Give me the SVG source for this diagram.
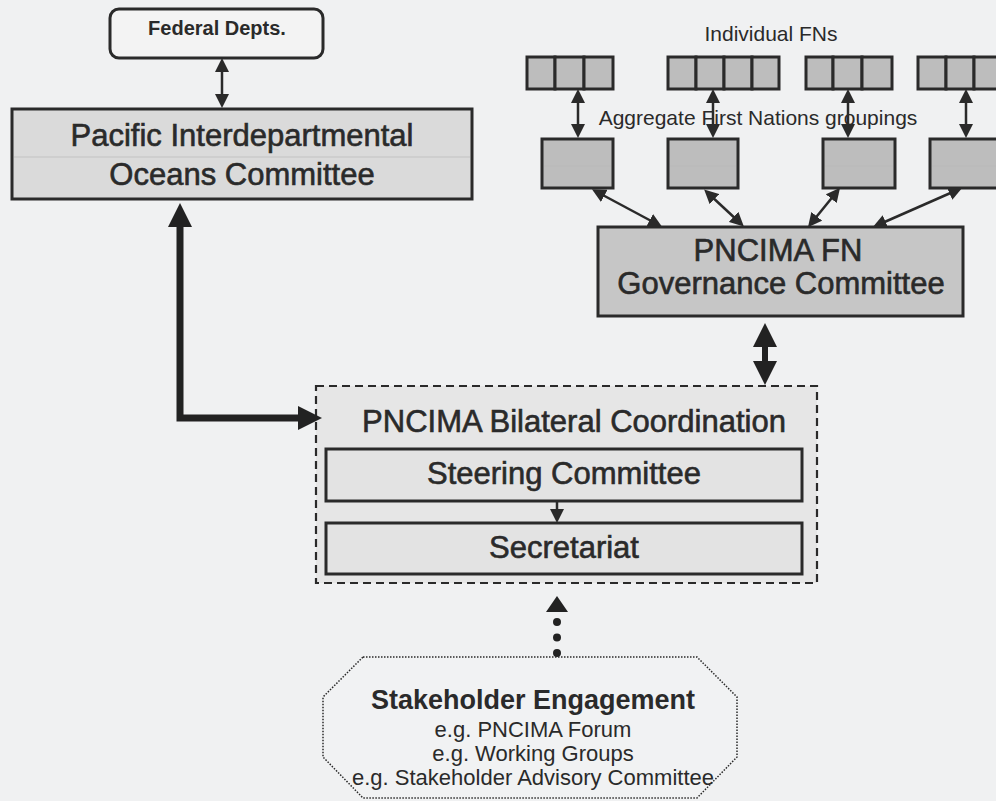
<svg xmlns="http://www.w3.org/2000/svg" width="996" height="801" viewBox="0 0 996 801">
<style>
text{font-family:"Liberation Sans",Arial,sans-serif;fill:#2a2a2a;text-anchor:middle}
.big{font-size:31px;stroke:#2a2a2a;stroke-width:0.6}
.mid{font-size:21px}
.b{font-weight:bold}
.box{stroke:#2a2a2a;stroke-width:3}
.cell{fill:#bdbdbd;stroke:#2a2a2a;stroke-width:3}
.thin{stroke:#2a2a2a;stroke-width:2.5;fill:none}
.thick{stroke:#222;stroke-width:7;fill:none}
.faint{stroke:#b9b9b9;stroke-width:1;opacity:.7}
.eg{font-size:22px}
</style>
<defs>
<marker id="ah" viewBox="0 0 14 14" refX="6" refY="7" markerWidth="14" markerHeight="14" markerUnits="userSpaceOnUse" orient="auto-start-reverse"><path d="M0,0 L14,7 L0,14 z" fill="#2a2a2a"/></marker>
<marker id="ahT" viewBox="0 0 24 24" refX="8" refY="12" markerWidth="24" markerHeight="24" markerUnits="userSpaceOnUse" orient="auto-start-reverse"><path d="M0,0 L24,12 L0,24 z" fill="#222"/></marker>
<marker id="ahS" viewBox="0 0 16 22" refX="0" refY="11" markerWidth="16" markerHeight="22" markerUnits="userSpaceOnUse" orient="auto"><path d="M0,0 L16,11 L0,22 z" fill="#222"/></marker>
</defs>
<rect width="996" height="801" fill="#f0f1f2"/>

<g id="federal">
<rect x="110" y="9" width="213" height="49" rx="9" fill="#f3f3f3" class="box" stroke-width="2.5"/>
<text x="217" y="35" class="b" font-size="20">Federal Depts.</text>
</g>

<g id="pacific">
<rect x="12" y="109" width="460" height="90" fill="#dadada" class="box"/>
<line x1="14" y1="157" x2="470" y2="157" class="faint"/>
<text x="242" y="146" class="big">Pacific Interdepartmental</text>
<text x="242" y="185" class="big">Oceans Committee</text>
</g>

<g id="individual-fns">
<text x="771" y="41" class="mid">Individual FNs</text>
<rect x="527" y="57" width="28" height="32" class="cell"/><rect x="555" y="57" width="29" height="32" class="cell"/><rect x="584" y="57" width="29" height="32" class="cell"/>
<rect x="668" y="57" width="28" height="32" class="cell"/><rect x="696" y="57" width="28" height="32" class="cell"/><rect x="724" y="57" width="28" height="32" class="cell"/><rect x="752" y="57" width="27" height="32" class="cell"/>
<rect x="806" y="57" width="27" height="32" class="cell"/><rect x="833" y="57" width="29" height="32" class="cell"/><rect x="862" y="57" width="30" height="32" class="cell"/>
<rect x="918" y="57" width="28" height="32" class="cell"/><rect x="946" y="57" width="28" height="32" class="cell"/><rect x="974" y="57" width="28" height="32" class="cell"/>
</g>

<g id="aggregate-groupings">
<text x="758" y="125" class="mid">Aggregate First Nations groupings</text>
<rect x="542" y="139" width="71" height="49" class="cell"/>
<rect x="668" y="139" width="70" height="49" class="cell"/>
<rect x="823" y="139" width="72" height="49" class="cell"/>
<rect x="930" y="139" width="72" height="49" class="cell"/>
<line x1="544" y1="166" x2="611" y2="166" class="faint"/>
<line x1="670" y1="166" x2="736" y2="166" class="faint"/>
<line x1="825" y1="166" x2="893" y2="166" class="faint"/>
<line x1="932" y1="166" x2="996" y2="166" class="faint"/>
</g>

<g id="governance">
<rect x="598" y="227" width="365" height="89" fill="#c6c6c6" class="box"/>
<text x="778" y="261" class="big" font-size="30">PNCIMA FN</text>
<text x="781" y="294" class="big">Governance Committee</text>
</g>

<g id="bilateral">
<rect x="316" y="386" width="501" height="197" fill="#e6e6e6" stroke="#2a2a2a" stroke-width="2.2" stroke-dasharray="8 5"/>
<text x="574" y="432" class="big">PNCIMA Bilateral Coordination</text>
</g>

<g id="steering">
<rect x="326" y="449" width="476" height="52" fill="#e3e3e3" class="box"/>
<text x="564" y="484" class="big">Steering Committee</text>
</g>

<g id="secretariat">
<rect x="326" y="523" width="476" height="51" fill="#e3e3e3" class="box"/>
<text x="564" y="558" class="big">Secretariat</text>
</g>

<g id="stakeholder">
<polygon points="363,657 697,657 737,697 737,757 697,798 363,798 323,757 323,697" fill="#f1f2f3" stroke="#2a2a2a" stroke-width="1.5" stroke-dasharray="1.5 1.5"/>
<text x="533" y="709" class="b" font-size="27">Stakeholder Engagement</text>
<text x="533" y="737" class="eg">e.g. PNCIMA Forum</text>
<text x="533" y="761" class="eg">e.g. Working Groups</text>
<text x="533" y="785" class="eg">e.g. Stakeholder Advisory Committee</text>
</g>

<g id="connectors">
<line x1="222" y1="66" x2="222" y2="100" class="thin" marker-start="url(#ah)" marker-end="url(#ah)"/>
<polyline points="180,219 180,418 306,418" class="thick" stroke-linejoin="miter" marker-start="url(#ahT)" marker-end="url(#ahT)"/>
<line x1="578" y1="97" x2="578" y2="130" class="thin" marker-start="url(#ah)" marker-end="url(#ah)"/>
<line x1="713" y1="97" x2="713" y2="130" class="thin" marker-start="url(#ah)" marker-end="url(#ah)"/>
<line x1="848" y1="97" x2="848" y2="130" class="thin" marker-start="url(#ah)" marker-end="url(#ah)"/>
<line x1="966" y1="97" x2="966" y2="130" class="thin" marker-start="url(#ah)" marker-end="url(#ah)"/>
<line x1="599" y1="193" x2="655" y2="223" class="thin" marker-start="url(#ah)" marker-end="url(#ah)"/>
<line x1="710" y1="195" x2="738" y2="221" class="thin" marker-start="url(#ah)" marker-end="url(#ah)"/>
<line x1="835" y1="194" x2="813" y2="221" class="thin" marker-start="url(#ah)" marker-end="url(#ah)"/>
<line x1="955" y1="191" x2="880" y2="224" class="thin" marker-start="url(#ah)" marker-end="url(#ah)"/>
<line x1="765" y1="339" x2="765" y2="369" stroke="#222" stroke-width="6" marker-start="url(#ahT)" marker-end="url(#ahT)"/>
<line x1="557" y1="501" x2="557" y2="515" class="thin" marker-end="url(#ah)"/>
<line x1="557" y1="653" x2="557" y2="612" stroke="#222" stroke-width="8" stroke-linecap="round" stroke-dasharray="0 15.5" marker-end="url(#ahS)"/>
</g>
</svg>
